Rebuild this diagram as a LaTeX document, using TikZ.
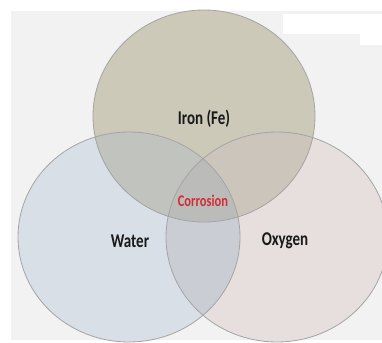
\documentclass[tikz,border=0pt]{standalone}
\usepackage{fontspec}
\setmainfont{Carlito}
\definecolor{panel}{HTML}{F2F2F2}
\definecolor{wonly}{HTML}{D9DFE7}
\definecolor{oonly}{HTML}{E6DFDE}
\definecolor{ionly}{HTML}{CCC9B9}
\definecolor{iw}{HTML}{C0C3BE}
\definecolor{io}{HTML}{CBC5BC}
\definecolor{wo}{HTML}{CACDD4}
\definecolor{iwo}{HTML}{BBBCBA}
\definecolor{edge}{HTML}{A4A4A4}
\definecolor{corr}{HTML}{D42B35}
\newcommand{\tallbox}[1]{\scalebox{1}[1.3]{#1}}
\begin{document}
\begin{tikzpicture}[x=1pt,y=-1pt,
  lbl/.style={font=\bfseries\fontsize{15}{17}\selectfont, text=black!90, inner sep=0pt},
  ring/.style={draw=edge, line width=0.8pt}]
\useasboundingbox (0,0) rectangle (382,342);
\fill[white] (0,0) rectangle (382,342);
\fill[panel] (11,11) rectangle (382,340);
\fill[white] (283,14) rectangle (382,34);
\fill[white] (360,34) rectangle (382,45);
\def\Iron{(204,116) ellipse [x radius=111pt, y radius=106pt]}
\def\Water{(129,237) ellipse [x radius=111pt, y radius=105pt]}
\def\Oxy{(277,237) ellipse [x radius=111pt, y radius=105pt]}
\fill[wonly] \Water;
\fill[oonly] \Oxy;
\begin{scope}\clip \Water; \fill[wo] \Oxy; \end{scope}
\fill[ionly] \Iron;
\begin{scope}\clip \Iron; \fill[iw] \Water; \end{scope}
\begin{scope}\clip \Iron; \fill[io] \Oxy; \end{scope}
\begin{scope}\clip \Iron; \clip \Water; \fill[iwo] \Oxy; \end{scope}
\draw[ring] \Water;
\draw[ring] \Oxy;
\draw[ring] \Iron;
\node[lbl] (iron) at (204,119) {\tallbox{Iron (Fe)}};
\node[lbl] (water) at (130,241) {\tallbox{Water}};
\node[lbl] (oxygen) at (285,241) {\tallbox{Oxygen}};
\node[lbl, text=corr, font=\bfseries\fontsize{12.5}{14}\selectfont] (corrosion) at (203,201) {\tallbox{Corrosion}};
\end{tikzpicture}
\end{document}
